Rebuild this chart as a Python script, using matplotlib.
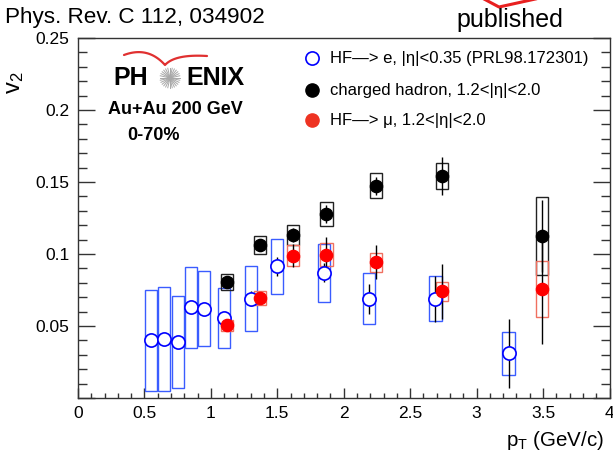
import numpy as np
import matplotlib
matplotlib.use("Agg")
import matplotlib.pyplot as plt
from matplotlib.patches import Rectangle
from matplotlib.ticker import MultipleLocator, FuncFormatter

# ---------------- data ----------------
# HF -> e, |eta|<0.35 (PRL98.172301)
pt_e = [0.55, 0.65, 0.75, 0.85, 0.95, 1.10, 1.30, 1.50, 1.85, 2.19, 2.69, 3.24]
v2_e = [0.040, 0.041, 0.039, 0.063, 0.062, 0.0555, 0.069, 0.0915, 0.087, 0.069, 0.069, 0.031]
stat_e = [0.003, 0.003, 0.003, 0.003, 0.003, 0.004, 0.005, 0.0065, 0.0065, 0.0105, 0.016, 0.024]
syst_e = [0.035, 0.036, 0.032, 0.028, 0.026, 0.021, 0.0225, 0.019, 0.020, 0.0178, 0.0158, 0.0148]

# charged hadron, 1.2<|eta|<2.0
pt_h = [1.12, 1.37, 1.62, 1.87, 2.24, 2.74, 3.49]
v2_h = [0.0804, 0.106, 0.1134, 0.1277, 0.1473, 0.1542, 0.1125]
stat_h = [0.003, 0.004, 0.005, 0.006, 0.006, 0.0135, 0.025]
syst_h = [0.0055, 0.0063, 0.007, 0.0085, 0.0087, 0.009, 0.027]

# HF -> mu, 1.2<|eta|<2.0
pt_m = [1.12, 1.37, 1.62, 1.87, 2.24, 2.74, 3.49]
v2_m = [0.0505, 0.0696, 0.0989, 0.0996, 0.0943, 0.0742, 0.0756]
stat_m = [0.002, 0.003, 0.008, 0.012, 0.012, 0.019, 0.038]
syst_m = [0.004, 0.005, 0.0073, 0.008, 0.0066, 0.0066, 0.0196]

labels = ["HF\u2014> e, |\u03b7|<0.35 (PRL98.172301)",
          "charged hadron, 1.2<|\u03b7|<2.0",
          "HF\u2014> \u03bc, 1.2<|\u03b7|<2.0"]

# ---------------- style ----------------
FONT = "Liberation Sans"
plt.rcParams["font.family"] = [FONT, "DejaVu Sans"]
plt.rcParams["mathtext.fontset"] = "custom"
plt.rcParams["mathtext.rm"] = FONT
plt.rcParams["mathtext.it"] = FONT + ":italic"
plt.rcParams["mathtext.bf"] = FONT + ":bold"

W, H = 613, 451
fig = plt.figure(figsize=(W / 100, H / 100), dpi=100)
L, R, T, B = 78, 609.5, 38, 398
ax = fig.add_axes([L / W, 1 - B / H, (R - L) / W, (B - T) / H])

def fx(px):
    return px / W

def fy(py):
    return 1 - py / H

BLUE = "#0000ff"
BLUE_BOX = "#3a5cff"
RED = "#ff0000"
RED_BOX = "#f07060"
hw = 0.046

def boxes(xs, ys, ss, color, lw=1.0):
    for x, y, s in zip(xs, ys, ss):
        ax.add_patch(Rectangle((x - hw, y - s), 2 * hw, 2 * s, fill=False,
                               edgecolor=color, lw=lw, zorder=2))

boxes(pt_e, v2_e, syst_e, BLUE_BOX)
boxes(pt_h, v2_h, syst_h, "#222222")
boxes(pt_m, v2_m, syst_m, RED_BOX)

for xs, ys, es in [(pt_e, v2_e, stat_e), (pt_h, v2_h, stat_h), (pt_m, v2_m, stat_m)]:
    ax.errorbar(xs, ys, yerr=es, fmt="none", ecolor="black", elinewidth=1.0,
                capsize=0, zorder=3)

ax.plot(pt_e, v2_e, "o", ms=9.5, mfc="white", mec=BLUE, mew=1.2, zorder=4)
ax.plot(pt_h, v2_h, "o", ms=8.8, mfc="black", mec="black", zorder=5)
ax.plot(pt_m, v2_m, "o", ms=8.8, mfc=RED, mec=RED, zorder=5)

ax.set_xlim(0, 4)
ax.set_ylim(0, 0.25)

ax.xaxis.set_major_locator(MultipleLocator(0.5))
ax.xaxis.set_minor_locator(MultipleLocator(0.1))
ax.yaxis.set_major_locator(MultipleLocator(0.05))
ax.yaxis.set_minor_locator(MultipleLocator(0.01))
ax.xaxis.set_major_formatter(FuncFormatter(lambda v, _: f"{v:g}"))
ax.yaxis.set_major_formatter(FuncFormatter(lambda v, _: "" if abs(v) < 1e-9 else f"{v:g}"))

ax.tick_params(axis="x", which="major", direction="in", length=7, width=1,
               labelsize=12.5, pad=6, color="#333333", top=False)
ax.tick_params(axis="x", which="minor", direction="in", length=3.6, width=1,
               color="#333333", top=False)
ax.tick_params(axis="y", which="major", direction="in", length=12, width=1,
               labelsize=12.5, pad=6, color="#333333", right=True)
ax.tick_params(axis="y", which="minor", direction="in", length=6.3, width=1,
               color="#333333", right=True)
for sp in ax.spines.values():
    sp.set_color("#333333")
    sp.set_linewidth(1.0)

# axis labels
fig.text(fx(604), fy(440), r"p$_{\mathregular{T}}$ (GeV/c)", ha="right", va="center",
         fontsize=14.8)
fig.text(fx(15), fy(83), r"v$_{2}$", rotation=90, ha="center", va="center", fontsize=17)

# title / published
fig.text(fx(5), fy(17), "Phys. Rev. C 112, 034902", ha="left", va="center", fontsize=16.2)
fig.text(fx(510), fy(20), "published", ha="center", va="center", fontsize=18)
ax.plot([fx(484), fx(499), fx(540)], [fy(-1), fy(7), fy(-2)], color="#e82020", lw=2.2,
        transform=fig.transFigure, clip_on=False)

# legend
leg_y = [58, 90, 120]
ax.plot([fx(312)], [fy(leg_y[0])], "o", ms=9.5, mfc="none", mec=BLUE, mew=1.2,
        transform=fig.transFigure, clip_on=False)
ax.plot([fx(312)], [fy(leg_y[1])], "o", ms=9.5, mfc="black", mec="black",
        transform=fig.transFigure, clip_on=False)
ax.plot([fx(312)], [fy(leg_y[2])], "o", ms=9.5, mfc="#ee3322", mec="#ee3322",
        transform=fig.transFigure, clip_on=False)
for yy, lab in zip(leg_y, labels):
    fig.text(fx(330), fy(yy), lab, ha="left", va="center", fontsize=12)

# PHENIX logo
fig.text(fx(113), fy(78), "PH", ha="left", va="center", fontsize=18, fontweight="bold")
fig.text(fx(186), fy(78), "ENIX", ha="left", va="center", fontsize=18, fontweight="bold")
cx, cy = 170, 78
for a in np.linspace(0, np.pi, 14, endpoint=False):
    dx, dy = 10 * np.cos(a), 10 * np.sin(a)
    ax.plot([fx(cx - dx), fx(cx + dx)], [fy(cy - dy), fy(cy + dy)], color="#a8a8a8",
            lw=0.7, transform=fig.transFigure, clip_on=False)
t = np.linspace(0, 1, 30)
x1 = (1 - t) ** 2 * 124 + 2 * (1 - t) * t * 148 + t ** 2 * 165
y1 = (1 - t) ** 2 * 55 + 2 * (1 - t) * t * 46 + t ** 2 * 65
x2 = (1 - t) ** 2 * 165 + 2 * (1 - t) * t * 175 + t ** 2 * 207
y2 = (1 - t) ** 2 * 65 + 2 * (1 - t) * t * 54 + t ** 2 * 56
ax.plot(fx(np.concatenate([x1, x2])), fy(np.concatenate([y1, y2])), color="#e03030",
        lw=1.6, transform=fig.transFigure, clip_on=False, solid_capstyle="round")
fig.text(fx(108), fy(110), "Au+Au 200 GeV", ha="left", va="center", fontsize=13,
         fontweight="bold")
fig.text(fx(127), fy(135), "0-70%", ha="left", va="center", fontsize=13,
         fontweight="bold")

fig.savefig("out.png", dpi=100)
